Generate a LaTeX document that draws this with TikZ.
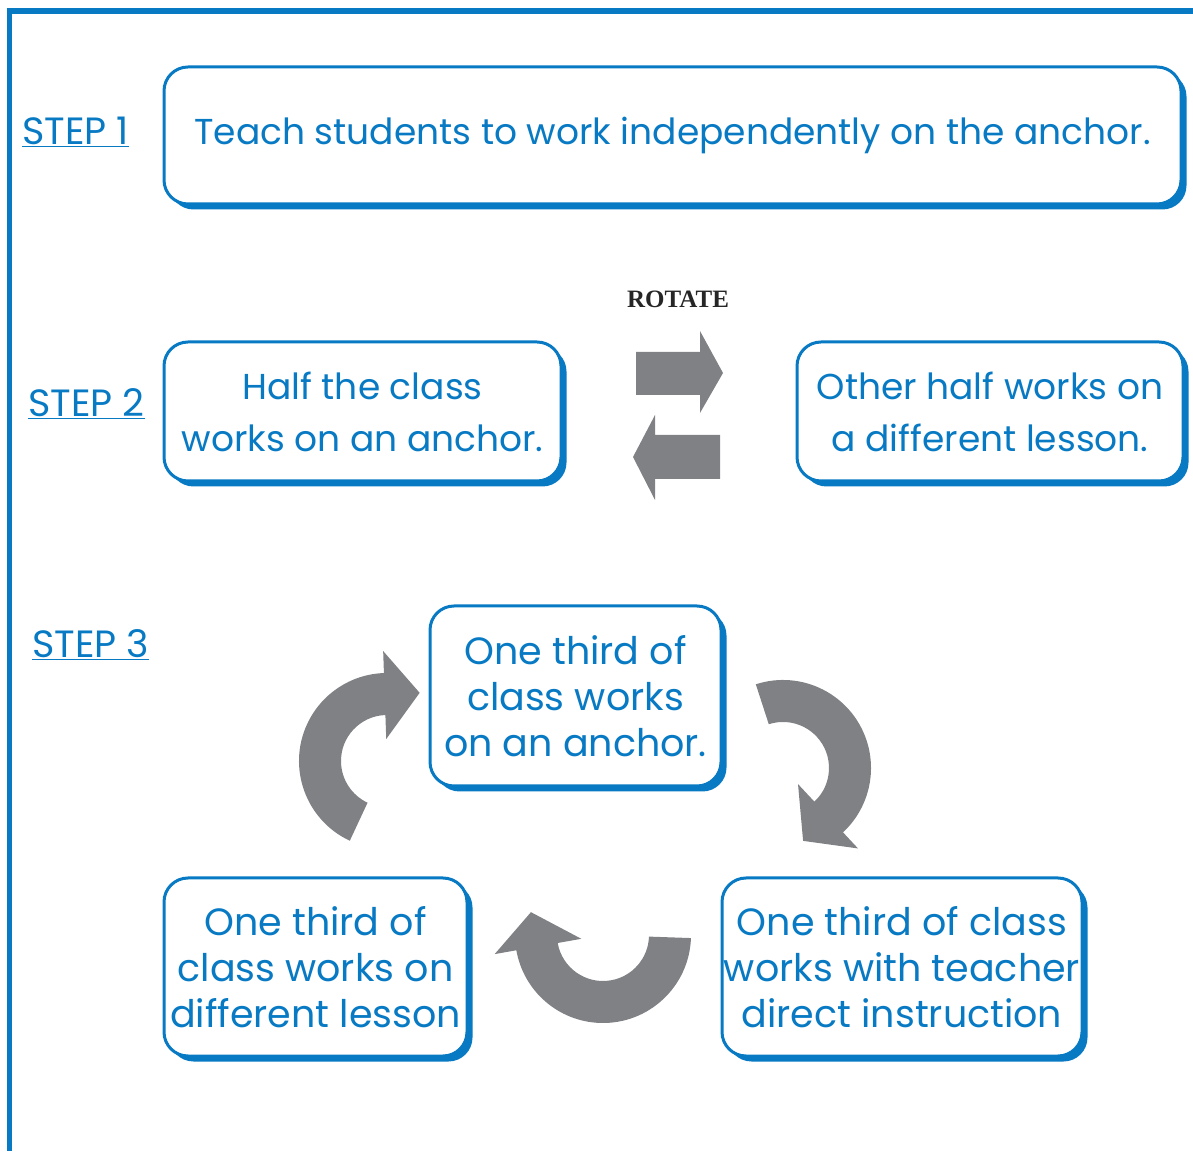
\documentclass[tikz,border=0pt]{standalone}
\usepackage{fontspec}
\setmainfont{Poppins}
\newfontfamily\rotfont{Liberation Serif}
\usetikzlibrary{shadows,calc}
\definecolor{frameblue}{RGB}{8,122,196}
\definecolor{arrowgray}{RGB}{128,129,132}
\tikzset{
  stepbox/.style={draw=frameblue, line width=3pt, fill=white, rounded corners=24pt,
    text=frameblue, align=center, inner sep=0pt,
    drop shadow={shadow xshift=5.5pt, shadow yshift=-5.5pt, fill=frameblue, opacity=1}},
  boxtextA/.style={font=\fontsize{36}{52}\selectfont},
  boxtextB/.style={font=\fontsize{38}{46}\selectfont},
  steplabel/.style={text=frameblue, font=\fontsize{38}{40}\selectfont, inner sep=0pt, anchor=base west},
  arrowfill/.style={fill=arrowgray, draw=none},
}
\newcommand{\curvedarrow}[3]{%
  \fill[arrowfill] ($(#1)+(#2:88)$) arc[start angle=#2, end angle=#3, radius=88]
    -- ($(#1)+(#3:110)$) -- ($(#1)+(#3:67)+(#3-90:35)$) -- ($(#1)+(#3:22)$)
    -- ($(#1)+(#3:46)$) arc[start angle=#3, end angle=#2, radius=46] -- cycle;}
\begin{document}
\begin{tikzpicture}[x=1pt, y=1pt]
\useasboundingbox (0,0) rectangle (1193,1151);
% frame
\draw[frameblue, line width=5.5pt, line join=miter] (9.5,0) -- (9.5,1140) -- (1200,1140);

% step labels
\node[steplabel] (s1) at (22,1006) {\underline{STEP 1}};
\node[steplabel] (s2) at (28,734) {\underline{STEP 2}};
\node[steplabel] (s3) at (32,493) {\underline{STEP 3}};

% step 1
\node[stepbox, boxtextA, minimum width=1017pt, minimum height=137pt] (b1) at (672.5,1015.5)
  {Teach students to work independently on the anchor.};

% step 2
\node[stepbox, boxtextA, minimum width=397pt, minimum height=139pt] (b2a) at (362.5,739.5)
  {Half the class\\works on an anchor.};
\node[stepbox, boxtextA, minimum width=386pt, minimum height=139pt] (b2b) at (990,739.5)
  {Other half works on\\a different lesson.};
\node[font=\rotfont\bfseries\fontsize{25}{28}\selectfont, text=black!85, inner sep=0pt] (rot) at (678,852) {ROTATE};
\fill[arrowfill] (636,756) -- (636,799) -- (700,799) -- (700,820) -- (723,778) -- (700,738) -- (700,756) -- cycle;
\fill[arrowfill] (720,672) -- (720,716) -- (655,716) -- (655,736) -- (633,694) -- (655,651) -- (655,672) -- cycle;

% step 3
\node[stepbox, boxtextB, minimum width=291pt, minimum height=180pt] (b3a) at (575.5,455)
  {One third of\\class works\\on an anchor.};
\node[stepbox, boxtextB, minimum width=303pt, minimum height=178pt] (b3b) at (315.5,184)
  {One third of\\class works on\\different lesson};
\node[stepbox, boxtextB, minimum width=360pt, minimum height=178pt] (b3c) at (902,184)
  {One third of class\\works with teacher\\direct instruction};

\coordinate (c1) at (387,390);
\coordinate (c2) at (783,383);
\coordinate (c3) at (603,216);
\curvedarrow{c1}{245}{92}
\curvedarrow{c2}{108}{-47}
\curvedarrow{c3}{-2}{-170}
\end{tikzpicture}
\end{document}
